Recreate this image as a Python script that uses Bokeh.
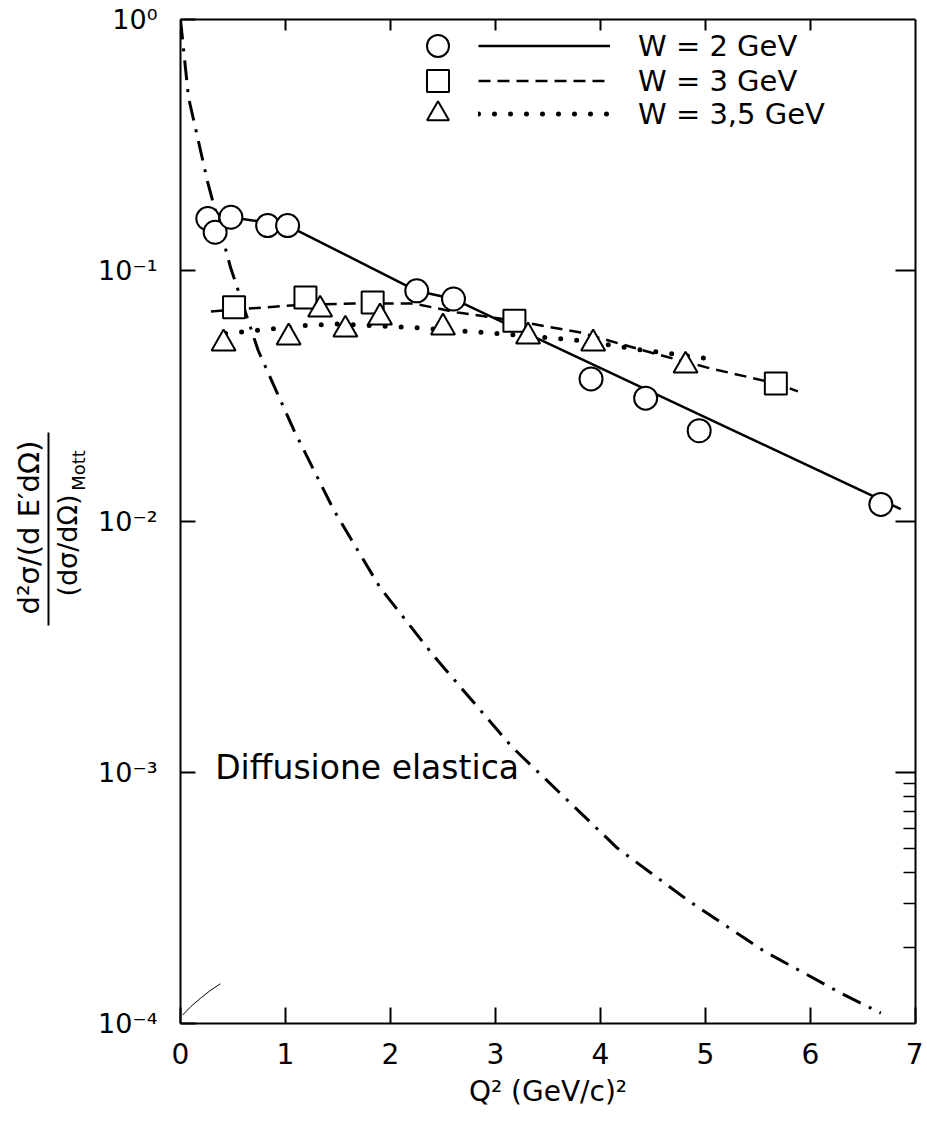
from bokeh.plotting import figure
from bokeh.models import (LinearAxis, LogAxis, FixedTicker, CustomJSTickFormatter,
                          Legend, LegendItem, Label, Range1d, LinearScale)
from bokeh.core.properties import value
from bokeh.embed import file_html
from bokeh.resources import INLINE

# ---------------- data ----------------
x_ticks = [0, 1, 2, 3, 4, 5, 6, 7]
y_ticks = [1e-4, 1e-3, 1e-2, 1e-1, 1.0]

# W = 2 GeV
w2_q2 = [0.26, 0.33, 0.48, 0.83, 1.02, 2.25, 2.60, 3.91, 4.43, 4.94, 6.67]
w2_ratio = [0.161, 0.142, 0.163, 0.151, 0.151, 0.083, 0.077, 0.037, 0.031, 0.023, 0.0117]
w2_fit_q2 = [0.26, 0.48, 1.02, 2.25, 2.60, 6.86]
w2_fit_ratio = [0.161, 0.163, 0.151, 0.083, 0.077, 0.0112]

# W = 3 GeV
w3_q2 = [0.51, 1.19, 1.83, 3.18, 5.67]
w3_ratio = [0.0713, 0.078, 0.0746, 0.063, 0.0355]
w3_fit_q2 = [0.29, 1.05, 1.65, 2.22, 2.64, 3.17, 3.81, 4.48, 5.05, 5.67, 5.88]
w3_fit_ratio = [0.0687, 0.0726, 0.0739, 0.0739, 0.068, 0.0632, 0.0566, 0.0471, 0.0407, 0.0355, 0.033]

# W = 3,5 GeV
w35_q2 = [0.41, 1.03, 1.33, 1.57, 1.90, 2.50, 3.31, 3.93, 4.81]
w35_ratio = [0.0512, 0.0541, 0.0699, 0.0582, 0.0650, 0.0593, 0.0546, 0.0512, 0.0418]
w35_fit_q2 = [0.43, 1.19, 1.50, 2.20, 3.03, 3.81, 4.37, 5.02]
w35_fit_ratio = [0.0561, 0.0604, 0.0612, 0.0593, 0.0561, 0.0526, 0.0484, 0.0446]

# elastic scattering curve
elastic_q2 = [0.0, 0.076, 0.26, 0.476, 0.74, 1.08, 1.46, 1.90, 2.41, 3.16, 4.16, 4.83, 5.55, 6.29, 6.67]
elastic_ratio = [1.0, 0.49, 0.224, 0.103, 0.048, 0.0231, 0.0111, 0.00546, 0.00292, 0.00126,
                 5.0e-4, 3.1e-4, 1.95e-4, 1.32e-4, 1.10e-4]

# small stray arc near the origin
arc_q2 = [0.02, 0.10, 0.19, 0.28, 0.38]
arc_ratio = [1.08e-4, 1.17e-4, 1.26e-4, 1.35e-4, 1.44e-4]

legend_labels = ["W = 2 GeV", "W = 3 GeV", "W = 3,5 GeV"]
y_title_num = "d²σ/(d E′dΩ)"
y_title_den = "(dσ/dΩ)"
y_title_sub = "Mott"
x_title = "Q² (GeV/c)²"
curve_label = "Diffusione elastica"

FONT = "DejaVu Sans"
FRAME_W, FRAME_H = 735, 1004

# ---------------- figure ----------------
p = figure(frame_width=FRAME_W, frame_height=FRAME_H,
           x_range=Range1d(0, 7), y_range=Range1d(1e-4, 1.0),
           y_axis_type="log", output_backend="svg", toolbar_location=None,
           min_border_left=180, min_border_top=19, min_border_right=8, min_border_bottom=100)
p.xgrid.visible = False
p.ygrid.visible = False
p.outline_line_color = None
p.background_fill_color = "white"
p.border_fill_color = "white"

# bottom axis
xa = p.xaxis[0]
xa.ticker = FixedTicker(ticks=x_ticks, minor_ticks=[])
xa.major_tick_in = 16
xa.major_tick_out = 0
xa.major_tick_line_width = 2
xa.axis_line_width = 2
xa.major_label_text_font = FONT
xa.major_label_text_font_size = "28px"
xa.major_label_text_color = "black"
xa.major_label_standoff = 19
xa.axis_label = x_title
xa.axis_label_text_font = FONT
xa.axis_label_text_font_style = "normal"
xa.axis_label_text_font_size = "28px"
xa.axis_label_text_color = "black"
xa.axis_label_standoff = 8

# left axis
sup_js = """
const m = {"0":"\\u2070","1":"\\u00b9","2":"\\u00b2","3":"\\u00b3","4":"\\u2074",
           "5":"\\u2075","6":"\\u2076","7":"\\u2077","8":"\\u2078","9":"\\u2079","-":"\\u207b"};
const e = Math.round(Math.log10(tick));
return "10" + String(e).split("").map(c => m[c]).join("");
"""
ya = p.yaxis[0]
ya.ticker = FixedTicker(ticks=y_ticks, minor_ticks=[])
ya.formatter = CustomJSTickFormatter(code=sup_js)
ya.major_tick_in = 15
ya.major_tick_out = 0
ya.major_tick_line_width = 2
ya.axis_line_width = 2
ya.major_label_text_font = FONT
ya.major_label_text_font_size = "27px"
ya.major_label_text_color = "black"
ya.major_label_standoff = 23

blank = CustomJSTickFormatter(code="return ''")

top = LinearAxis(ticker=FixedTicker(ticks=[1, 2, 3, 4, 5, 6], minor_ticks=[]),
                 formatter=blank, major_tick_in=11, major_tick_out=0,
                 major_tick_line_width=2, axis_line_width=2,
                 major_label_text_font_size="1px", major_label_standoff=0)
p.add_layout(top, "above")

right = LogAxis(ticker=FixedTicker(ticks=[1e-3, 1e-2, 1e-1],
                                   minor_ticks=[2e-4, 3e-4, 4e-4, 5e-4, 6e-4, 7e-4, 8e-4, 9e-4]),
                formatter=blank, major_tick_in=20, major_tick_out=0,
                minor_tick_in=12, minor_tick_out=0,
                major_tick_line_width=2, minor_tick_line_width=1.5, axis_line_width=2,
                major_label_text_font_size="1px", major_label_standoff=0)
p.add_layout(right, "right")

# y-axis title as a stacked fraction: tick-less axes on a pixel range, each carrying
# one rotated label placed at a chosen height
p.extra_y_ranges = {"lab": Range1d(0, FRAME_H)}
p.extra_y_scales = {"lab": LinearScale()}


def title_axis(text, at, size, standoff, bar=None):
    ax = LinearAxis(y_range_name="lab", ticker=FixedTicker(ticks=[at], minor_ticks=[]),
                    formatter=CustomJSTickFormatter(args=dict(t=text), code="return t"),
                    major_label_orientation="parallel", major_label_standoff=standoff,
                    major_label_text_font=FONT, major_label_text_font_size=size,
                    major_label_text_color="black",
                    major_tick_in=0, major_tick_out=0, minor_tick_in=0, minor_tick_out=0,
                    major_tick_line_color=None, minor_tick_line_color=None,
                    axis_line_color="black" if bar else None, axis_line_width=2)
    if bar:
        ax.bounds = bar
    p.add_layout(ax, "left")
    return ax


title_axis(y_title_sub, 553, "18px", 7)
title_axis(y_title_den, 478, "27px", -18)
title_axis(y_title_num, 496, "29px", 3, bar=(398, 591))

# ---------------- curves ----------------
p.line(elastic_q2, elastic_ratio, line_color="black", line_width=3, line_dash="20 9 3 9")
p.line(arc_q2, arc_ratio, line_color="black", line_width=1)

l2 = p.line(w2_fit_q2, w2_fit_ratio, line_color="black", line_width=2.5)
l3 = p.line(w3_fit_q2, w3_fit_ratio, line_color="black", line_width=2.5, line_dash="12 7")
l35 = p.line(w35_fit_q2, w35_fit_ratio, line_color="black", line_width=5,
             line_dash="0 16", line_cap="round")

m2 = p.scatter(w2_q2, w2_ratio, marker="circle", size=23, fill_color="white",
               line_color="black", line_width=2)
m3 = p.scatter(w3_q2, w3_ratio, marker="square", size=22, fill_color="white",
               line_color="black", line_width=2)
m35 = p.scatter(w35_q2, w35_ratio, marker="triangle", size=24, fill_color="white",
                line_color="black", line_width=2)

# ---------------- legend: one marker key and one line key per row ----------------
common = dict(glyph_height=55, spacing=0, padding=0, margin=0,
              background_fill_alpha=0, border_line_color=None, border_line_width=0,
              label_text_font=FONT, label_text_font_size="29px", label_text_color="black")
row_bottoms = [950, 915, 882]
for marker_r, line_r, lab, yb in zip([m2, m3, m35], [l2, l3, l35], legend_labels, row_bottoms):
    p.add_layout(Legend(items=[LegendItem(label=value(""), renderers=[marker_r])],
                        location=(230, yb), glyph_width=55, label_width=0,
                        label_standoff=0, **common))
    p.add_layout(Legend(items=[LegendItem(label=value(lab), renderers=[line_r])],
                        location=(298, yb), glyph_width=132, label_standoff=28,
                        **common))

# ---------------- text ----------------
p.add_layout(Label(x=0.33, y=1.05e-3, text=curve_label, text_font=FONT,
                   text_font_size="33px", text_color="black",
                   text_baseline="middle", text_align="left"))

with open("out.html", "w", encoding="utf-8") as f:
    f.write(file_html(p, INLINE))
